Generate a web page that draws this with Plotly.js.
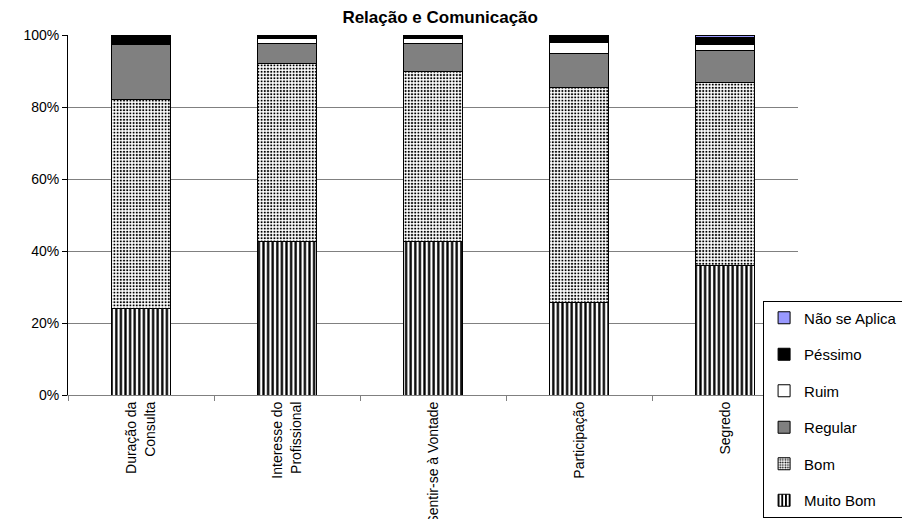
<!DOCTYPE html>
<html>
<head>
<meta charset="utf-8">
<script src="https://cdn.plot.ly/plotly-3.0.1.min.js"></script>
<style>html,body{margin:0;padding:0;background:#fff;}#chart{width:902px;height:519px;}</style>
</head>
<body>
<div id="chart"></div>
<script>
var categories = ["Duração da<br>Consulta", "Interesse do<br>Profissional", "Sentir-se à Vontade", "Participação", "Segredo"];
var muitoBom   = [24.0, 42.6, 42.6, 25.6, 36.1];
var bom        = [58.0, 49.4, 47.4, 59.7, 50.6];
var regular    = [15.5, 5.7, 7.7, 9.7, 9.1];
var ruim       = [0.0, 1.4, 1.4, 2.8, 1.7];
var pessimo    = [2.5, 0.9, 0.9, 1.8, 1.9];
var naoSeAplica= [0.0, 0.0, 0.0, 0.4, 0.6];
var yTicks = [0, 20, 40, 60, 80, 100];
var yTickText = ["0%", "20%", "40%", "60%", "80%", "100%"];
var yGrid = [20, 40, 60, 80];

var FONT = "Liberation Sans, Arial, sans-serif";
var outline = {color: "#000", width: 1};

function bar(name, vals, marker, rank) {
  return {type: "bar", name: name, x: categories, y: vals, legendgroup: name, legendrank: rank,
          marker: Object.assign({line: outline}, marker), hoverinfo: "skip"};
}

var traces = [
  bar("Muito Bom", muitoBom, {color: "#fff", pattern: {shape: "|", fgcolor: "#000", bgcolor: "#fff", size: 4.6, solidity: 0.5}}, 6),
  bar("Bom", bom, {color: "#fff", pattern: {shape: ".", fgcolor: "#000", bgcolor: "#fff", size: 3.2, solidity: 0.34}}, 5),
  bar("Regular", regular, {color: "#808080"}, 4),
  bar("Ruim", ruim, {color: "#ffffff"}, 3),
  bar("Péssimo", pessimo, {color: "#000000"}, 2),
  bar("Não se Aplica", naoSeAplica, {color: "#9999ff"}, 1)
];
// helper trace for grid on overlaying axis
traces.push({type: "scatter", x: [categories[0]], y: [0], yaxis: "y2", mode: "markers",
  marker: {opacity: 0}, showlegend: false, hoverinfo: "skip"});

var layout = {
  width: 902, height: 519,
  margin: {l: 68, r: 104, t: 35, b: 124, autoexpand: false},
  paper_bgcolor: "#fff", plot_bgcolor: "rgba(0,0,0,0)",
  font: {family: FONT, size: 13, color: "#000"},
  title: {text: "<b>Relação e Comunicação</b>", font: {family: FONT, size: 17, color: "#000"},
          x: 0.488, xanchor: "center", y: 0.968, yanchor: "middle"},
  barmode: "stack", barnorm: "percent", bargap: 0.59,
  showlegend: true,
  legend: {xref: "container", yref: "container", x: 0.846, xanchor: "left", y: 0.421, yanchor: "top",
           traceorder: "grouped", tracegroupgap: 14,
           bgcolor: "#fff", bordercolor: "#000", borderwidth: 1,
           font: {family: FONT, size: 15, color: "#000"}, itemwidth: 30},
  xaxis: {type: "category", showgrid: false, showline: true, linecolor: "#808080", linewidth: 1,
          ticks: "outside", tickson: "boundaries", ticklen: 5, tickcolor: "#808080",
          tickangle: -90, tickfont: {family: FONT, size: 14, color: "#000"}, zeroline: false,
          automargin: false},
  yaxis: {range: [0, 100], tickvals: yTicks, ticktext: yTickText, showgrid: false,
          showline: true, linecolor: "#000", linewidth: 1, ticks: "outside", ticklen: 5,
          tickcolor: "#000", zeroline: false, tickfont: {family: FONT, size: 14, color: "#000"},
          automargin: false},
  yaxis2: {range: [0, 100], overlaying: "y", tickvals: yGrid, showticklabels: false,
           showgrid: true, gridcolor: "#808080", gridwidth: 1, zeroline: false, showline: false, ticks: ""}
};

Plotly.newPlot("chart", traces, layout, {staticPlot: true, displayModeBar: false});
</script>
</body>
</html>
